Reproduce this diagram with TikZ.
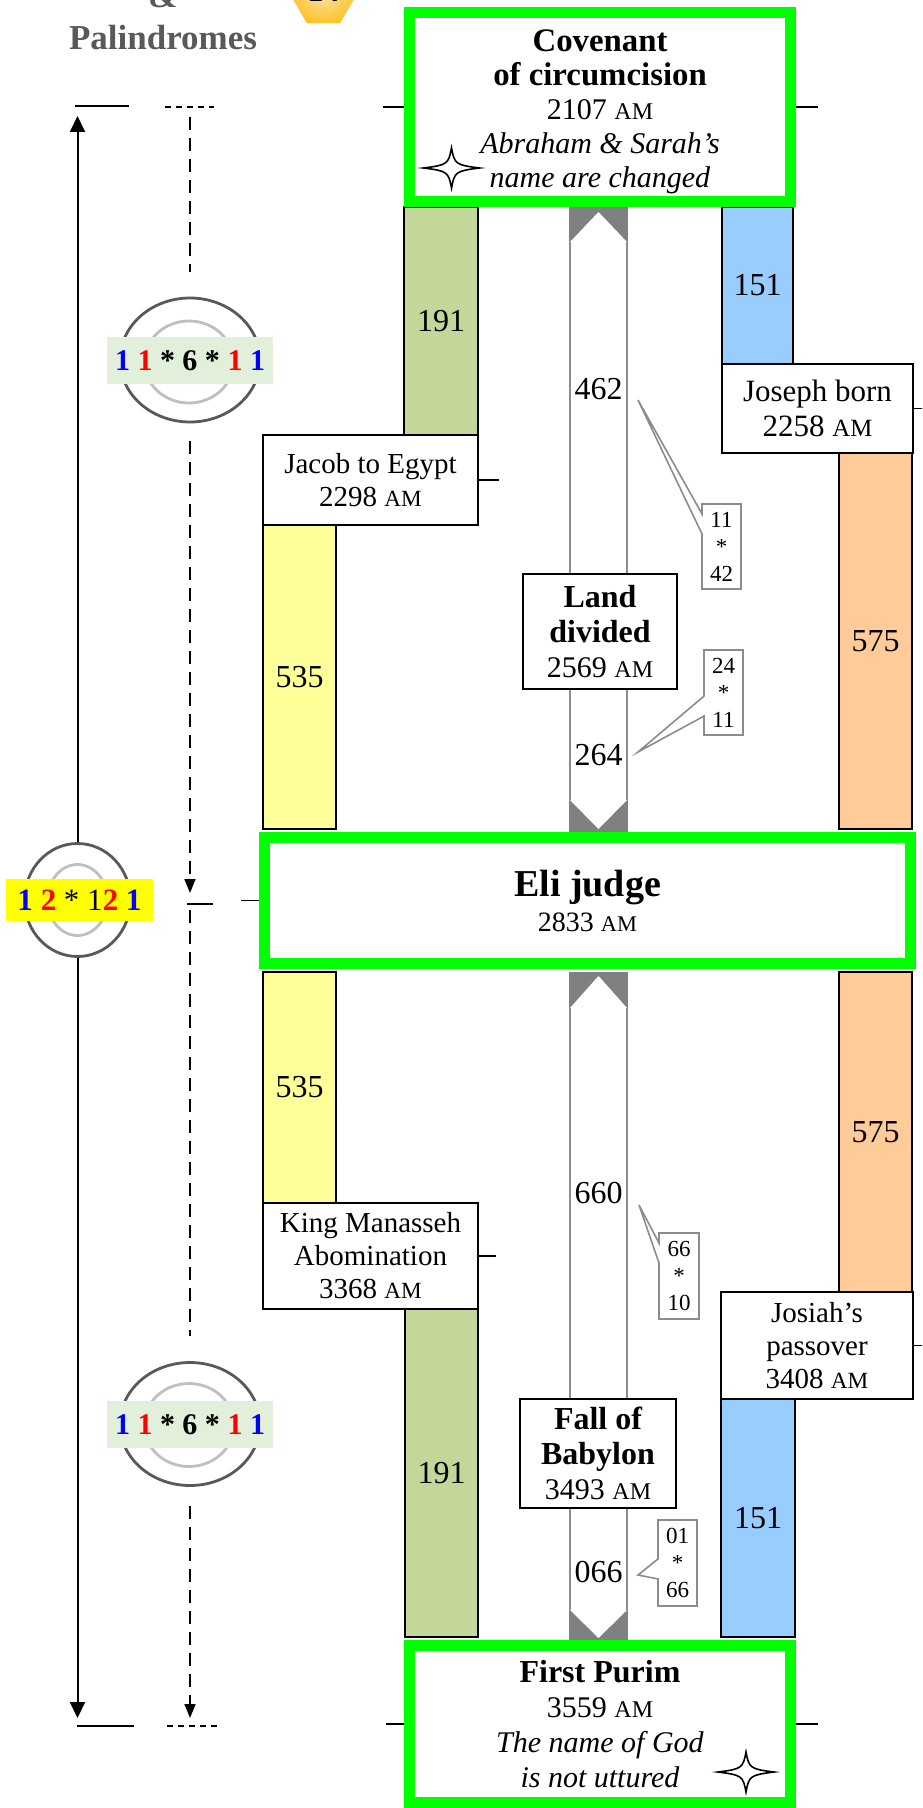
\documentclass[tikz,border=0pt]{standalone}
\usepackage{fontspec}
\setmainfont{Liberation Serif}
\usepackage{graphicx}
\usepackage{xcolor}
\usetikzlibrary{shapes,arrows,arrows.meta,positioning,calc}

\definecolor{keygreen}{HTML}{00FF00}
\definecolor{olivebar}{HTML}{C4D79B}
\definecolor{yellowbar}{HTML}{FFFF99}
\definecolor{bluebar}{HTML}{99CCFF}
\definecolor{orangebar}{HTML}{FFCC99}
\definecolor{tipgray}{HTML}{808080}
\definecolor{colgray}{HTML}{8C8C8C}
\definecolor{ringdark}{HTML}{595959}
\definecolor{ringlight}{HTML}{BFBFBF}
\definecolor{palgreen}{HTML}{E2EFDA}
\definecolor{palyellow}{HTML}{FFFF00}
\definecolor{titlegray}{HTML}{595959}
\definecolor{hexgold}{HTML}{FFC22A}
\definecolor{hexlight}{HTML}{F6E2A8}

\newcommand{\am}{\scalebox{0.8}{AM}}

\begin{document}
\begin{tikzpicture}[x=0.5pt,y=-0.5pt,
    keybox/.style={draw=keygreen, line width=5.5pt, fill=white, align=center, inner sep=0pt, font=\fontsize{15}{17}\selectfont},
    event/.style={draw, line width=1pt, fill=white, align=center, inner sep=0pt, font=\fontsize{14.5}{16.5}\selectfont},
    yearbar/.style={draw, line width=0.7pt, inner sep=0pt, font=\fontsize{16}{18}\selectfont},
    yearcount/.style={inner sep=0pt, anchor=base, font=\fontsize{16}{18}\selectfont},
    factorbox/.style={rectangle callout, draw=colgray, line width=0.8pt, fill=white, align=center, inner sep=0pt, minimum width=19.5pt, minimum height=42.5pt, callout pointer width=10pt, font=\fontsize{11.5}{13.5}\selectfont},
    ring/.style={ellipse, draw=ringdark, line width=1.4pt, inner sep=0pt},
    innerring/.style={ellipse, draw=ringlight, line width=1.4pt, inner sep=0pt},
    palbox/.style={inner sep=0pt, font=\fontsize{15}{17}\selectfont},
    timeline/.style={line width=1pt, -{Triangle[length=8pt,width=7.5pt]}},
    dashline/.style={line width=0.8pt, dash pattern=on 6.5pt off 4pt},
    dasharrow/.style={dashline, -{Triangle[length=7pt,width=5.5pt]}},
    eventtick/.style={line width=0.9pt},
    colline/.style={draw=colgray, line width=0.8pt},
    headline/.style={anchor=base, text=titlegray, font=\bfseries\fontsize{17.5}{20}\selectfont},
    sparkle/.style={draw, fill=white, line width=0.8pt}
]
    \useasboundingbox (0,0) rectangle (922,1808);
    \clip (0,0) rectangle (922,1808);

    % Heading
    \node[headline] (amp) at (163,8) {\&};
    \node[headline] (palhead) at (163,50) {Palindromes};
    \node[regular polygon, regular polygon sides=6, minimum size=33.5pt, inner sep=0pt,
          shading=radial, inner color=hexlight, outer color=hexgold] (hex) at (323.5,-6) {};
    \node[anchor=base, font=\bfseries\fontsize{16}{18}\selectfont] (hexnum) at (323.5,2) {14};

    % Bars, upper half
    \node[yearbar, fill=olivebar, minimum width=37pt, minimum height=114pt] (olive1) at (441,321) {191};
    \node[yearbar, fill=yellowbar, minimum width=36.5pt, minimum height=152pt] (yellow1) at (299.5,677) {535};
    \node[yearbar, fill=bluebar, minimum width=35.5pt, minimum height=78.5pt] (blue1) at (757.5,285.5) {151};
    \node[yearbar, fill=orangebar, minimum width=36.5pt, minimum height=188pt] (orange1) at (875.5,641) {575};

    % Bars, lower half
    \node[yearbar, fill=yellowbar, minimum width=36.5pt, minimum height=115.5pt] (yellow2) at (299.5,1087.5) {535};
    \node[yearbar, fill=orangebar, minimum width=36.5pt, minimum height=160pt] (orange2) at (875.5,1132) {575};
    \node[yearbar, fill=olivebar, minimum width=36.5pt, minimum height=164pt] (olive2) at (441.5,1473) {191};
    \node[yearbar, fill=bluebar, minimum width=37pt, minimum height=119pt] (blue2) at (758,1518) {151};

    % Centre column
    \fill[tipgray] (569,207) rectangle (628,242);
    \fill[white] (570,242) -- (598.5,212) -- (627,242) -- (627,574) -- (570,574) -- cycle;
    \draw[colline] (570,242) -- (570,574) (627,242) -- (627,574);

    \fill[tipgray] (569,797) rectangle (628,832);
    \fill[white] (570,689) -- (570,800) -- (598.5,829) -- (627,800) -- (627,689) -- cycle;
    \draw[colline] (570,689) -- (570,800) (627,689) -- (627,800);

    \fill[tipgray] (569,972) rectangle (628,1008);
    \fill[white] (570,1008) -- (598.5,976) -- (627,1008) -- (627,1399) -- (570,1399) -- cycle;
    \draw[colline] (570,1008) -- (570,1399) (627,1008) -- (627,1399);

    \fill[tipgray] (569,1608) rectangle (628,1640);
    \fill[white] (570,1508) -- (570,1610) -- (598.5,1638) -- (627,1610) -- (627,1508) -- cycle;
    \draw[colline] (570,1508) -- (570,1610) (627,1508) -- (627,1610);

    \node[yearcount] (n462) at (598.5,400) {462};
    \node[yearcount] (n264) at (598.5,765) {264};
    \node[yearcount] (n660) at (598.5,1203) {660};
    \node[yearcount] (n066) at (598.5,1582) {066};

    % Events
    \node[event, minimum width=107.5pt, minimum height=45pt] (jacob) at (370.5,480) {Jacob to Egypt\\2298 \am};
    \node[event, minimum width=95.5pt, minimum height=44.5pt, font=\fontsize{15.5}{17.5}\selectfont] (joseph) at (817.5,408.5) {Joseph born\\2258 \am};
    \node[event, minimum width=77pt, minimum height=57.5pt, font=\fontsize{15}{17.5}\selectfont] (land) at (600,631.5)
        {{\bfseries\fontsize{16}{18}\selectfont Land}\\{\bfseries\fontsize{16}{18}\selectfont divided}\\2569 \am};
    \node[event, minimum width=107.5pt, minimum height=53pt] (manasseh) at (370.5,1256) {King Manasseh\\Abomination\\3368 \am};
    \node[event, minimum width=96pt, minimum height=53.5pt] (josiah) at (817,1345.5) {Josiah’s\\passover\\3408 \am};
    \node[event, minimum width=78pt, minimum height=54.5pt, font=\fontsize{15}{17.5}\selectfont] (babylon) at (598,1453.5)
        {{\bfseries\fontsize{16}{18}\selectfont Fall of}\\{\bfseries\fontsize{16}{18}\selectfont Babylon}\\3493 \am};

    % Factor callouts
    \coordinate (p462) at (638,400);
    \coordinate (p264) at (638,752);
    \coordinate (p660) at (639,1205);
    \coordinate (p066) at (638,1575);
    \node[factorbox, callout absolute pointer={(p462)}] (f462) at (721.5,546.5) {11\\*\\42};
    \node[factorbox, callout absolute pointer={(p264)}] (f264) at (723.5,692.5) {24\\*\\11};
    \node[factorbox, callout absolute pointer={(p660)}, minimum width=20pt, minimum height=43pt] (f660) at (679,1276) {66\\*\\10};
    \node[factorbox, callout absolute pointer={(p066)}, minimum height=43pt] (f066) at (677.5,1563) {01\\*\\66};

    % Key boxes
    \node[keybox, minimum width=190.5pt, minimum height=94.5pt] (covenant) at (600,107)
        {\rule{0pt}{16pt}{\fontsize{16.4}{18}\selectfont\bfseries Covenant}\\{\fontsize{16.4}{18}\selectfont\bfseries of circumcision}\\2107 \am\\\textit{Abraham \& Sarah’s}\\\textit{name are changed}};
    \node[keybox, minimum width=323pt, minimum height=63pt, font=\fontsize{14}{17.5}\selectfont] (eli) at (587.5,900.5)
        {{\fontsize{19}{21}\selectfont\bfseries Eli judge}\\2833 \am};
    \node[keybox, minimum width=190.5pt, minimum height=78.25pt, font=\fontsize{15}{17.5}\selectfont] (purim) at (600,1723.75)
        {{\fontsize{16}{18}\selectfont\bfseries First Purim}\\3559 \am\\\textit{The name of God}\\\textit{is not uttured}};

    % Stars
    \begin{scope}[shift={(451.5,168)}]
        \draw[sparkle] (-28,0) .. controls (-4,-3) and (-3,-4) .. (0,-20) .. controls (3,-4) and (4,-3) .. (28,0)
            .. controls (4,3) and (3,4) .. (0,20) .. controls (-3,4) and (-4,3) .. (-28,0) -- cycle;
    \end{scope}
    \begin{scope}[shift={(746,1772)}]
        \draw[sparkle] (-28,0) .. controls (-4,-3) and (-3,-4) .. (0,-20) .. controls (3,-4) and (4,-3) .. (28,0)
            .. controls (4,3) and (3,4) .. (0,20) .. controls (-3,4) and (-4,3) .. (-28,0) -- cycle;
    \end{scope}

    % Ticks on the boxes
    \draw[eventtick] (covenant.west) -- +(-21,0);
    \draw[eventtick] (covenant.east) -- +(22,0);
    \draw[eventtick] (eli.west) -- +(-18,0);
    \draw[eventtick] (jacob.east) -- +(20,0);
    \draw[eventtick] (joseph.east) -- +(12,0);
    \draw[eventtick] (manasseh.east) -- +(17,0);
    \draw[eventtick] (josiah.east) -- +(12,0);
    \draw[eventtick] (purim.west) -- +(-18,0);
    \draw[eventtick] (purim.east) -- +(22,0);

    % Palindrome rings
    \node[ring, minimum width=70pt, minimum height=62pt] (ringtop) at (190,360) {};
    \node[innerring, minimum width=44.5pt, minimum height=41pt] (ringtopin) at (189,362) {};
    \node[palbox, fill=palgreen, minimum width=83pt, minimum height=23.5pt] (paltop) at (190,360.5)
        {\bfseries\color{blue}1 \color{red}1 \color{black}* 6 * \color{red}1 \color{blue}1};

    \node[ring, minimum width=53pt, minimum height=56.5pt] (ring12) at (77.5,900) {};
    \node[innerring, minimum width=30pt, minimum height=35.5pt] (ring12in) at (77.5,900) {};
    \node[palbox, fill=palyellow, minimum width=73.5pt, minimum height=21pt, font=\fontsize{15.5}{17}\selectfont] (pal12) at (79.5,900)
        {{\bfseries\color{blue}1} {\bfseries\color{red}2} * 1{\bfseries\color{red}2} {\bfseries\color{blue}1}};

    \node[ring, minimum width=70pt, minimum height=61.5pt] (ringbot) at (190,1424) {};
    \node[innerring, minimum width=45pt, minimum height=41.5pt] (ringbotin) at (189,1425) {};
    \node[palbox, fill=palgreen, minimum width=83pt, minimum height=23.5pt] (palbot) at (190,1424.5)
        {\bfseries\color{blue}1 \color{red}1 \color{black}* 6 * \color{red}1 \color{blue}1};

    % Timelines
    \coordinate (solidtop) at (77.5,116);
    \coordinate (solidbot) at (77.5,1718);
    \coordinate (dashtop) at (190,117);
    \coordinate (dashmid) at (190,893);
    \coordinate (dashmidb) at (190,910);
    \coordinate (dashbot) at (190,1718);
    \draw[timeline] (ring12) -- (solidtop);
    \draw[timeline] (ring12) -- (solidbot);
    \draw[dashline, shorten >=12.5pt] (dashtop) -- (ringtop);
    \draw[dasharrow, shorten <=9pt] (ringtop) -- (dashmid);
    \draw[dashline, shorten >=12.5pt] (dashmidb) -- (ringbot);
    \draw[dasharrow, shorten <=9.5pt] (ringbot) -- (dashbot);

    \draw[eventtick] (75,106) -- (129,106);
    \draw[eventtick, dash pattern=on 3pt off 2.5pt] (165,107) -- (214,107);
    \draw[eventtick] (187,904) -- (213,904);
    \draw[eventtick] (77,1726) -- (134,1726);
    \draw[eventtick, dash pattern=on 3pt off 2.5pt] (167,1726) -- (217,1726);
\end{tikzpicture}
\end{document}
